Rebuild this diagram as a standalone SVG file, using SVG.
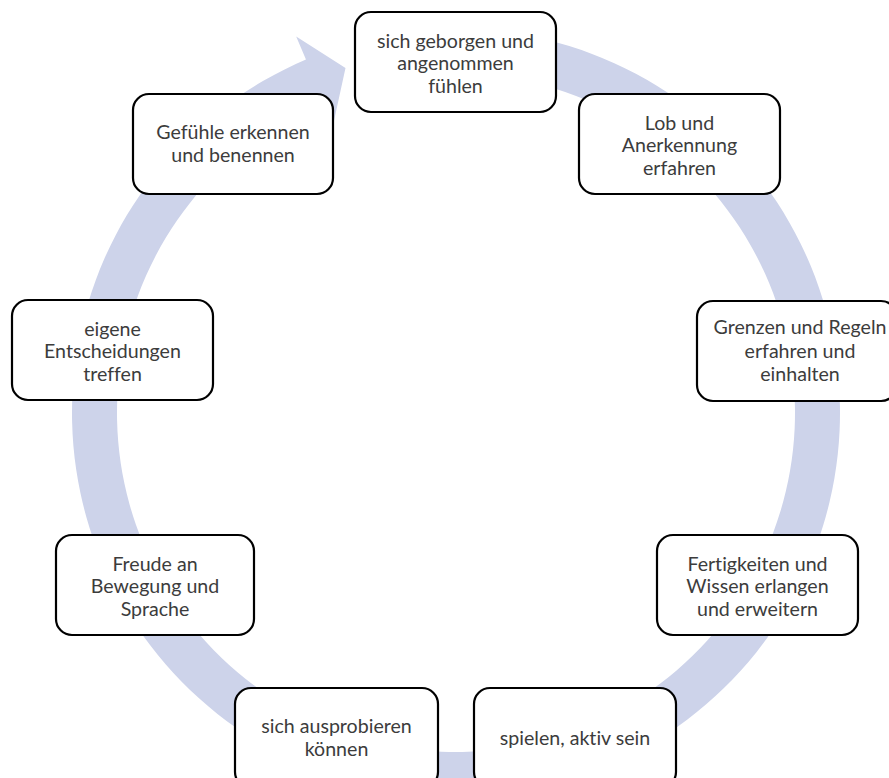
<svg xmlns="http://www.w3.org/2000/svg" width="889" height="778" viewBox="0 0 889 778">
<style>
.box{fill:#fff;stroke:#000;stroke-width:2.2}
.t{font-family:Lato,"Open Sans",sans-serif;font-size:19.6px;fill:#3c3c3c;text-anchor:middle;font-variant-ligatures:none}
.ring{fill:#cdd3ea}
</style>
<rect width="889" height="778" fill="#fff"/>
<g id="connectors">
<path class="ring" d="M402.56,32.74 A384,384 0 1 1 305.96,59.53 L296.19,36.52 L345.5,68 L333.31,123.96 L323.54,100.95 A339,339 0 1 0 408.82,77.30 Z"/>
</g>
<g id="n1"><rect class="box" x="355" y="12" width="201" height="100" rx="16"/>
<text class="t"><tspan x="455.5" y="47.5">sich geborgen und</tspan><tspan x="455.5" y="70">angenommen</tspan><tspan x="455.5" y="92.5">fühlen</tspan></text></g>
<g id="n2"><rect class="box" x="579" y="94" width="201" height="100" rx="16"/>
<text class="t"><tspan x="679.5" y="129.5">Lob und</tspan><tspan x="679.5" y="152">Anerkennung</tspan><tspan x="679.5" y="174.5">erfahren</tspan></text></g>
<g id="n3"><rect class="box" x="697" y="301" width="200" height="100" rx="16"/>
<text class="t"><tspan x="800" y="334">Grenzen und Regeln</tspan><tspan x="800" y="357.5">erfahren und</tspan><tspan x="800" y="381">einhalten</tspan></text></g>
<g id="n4"><rect class="box" x="657" y="535" width="201" height="100" rx="16"/>
<text class="t"><tspan x="757.5" y="570.5">Fertigkeiten und</tspan><tspan x="757.5" y="593">Wissen erlangen</tspan><tspan x="757.5" y="615.5">und erweitern</tspan></text></g>
<g id="n5"><rect class="box" x="474" y="688" width="202" height="100" rx="16"/>
<text class="t"><tspan x="575" y="745">spielen, aktiv sein</tspan></text></g>
<g id="n6"><rect class="box" x="235" y="688" width="203" height="100" rx="16"/>
<text class="t"><tspan x="336.5" y="733">sich ausprobieren</tspan><tspan x="336.5" y="756">können</tspan></text></g>
<g id="n7"><rect class="box" x="56" y="535" width="198" height="100" rx="16"/>
<text class="t"><tspan x="155" y="570.5">Freude an</tspan><tspan x="155" y="593">Bewegung und</tspan><tspan x="155" y="615.5">Sprache</tspan></text></g>
<g id="n8"><rect class="box" x="12" y="300" width="201" height="100" rx="16"/>
<text class="t"><tspan x="112.5" y="335.5">eigene</tspan><tspan x="112.5" y="358">Entscheidungen</tspan><tspan x="112.5" y="380.5">treffen</tspan></text></g>
<g id="n9"><rect class="box" x="133" y="94" width="200" height="100" rx="16"/>
<text class="t"><tspan x="233" y="139">Gefühle erkennen</tspan><tspan x="233" y="162">und benennen</tspan></text></g>
</svg>
